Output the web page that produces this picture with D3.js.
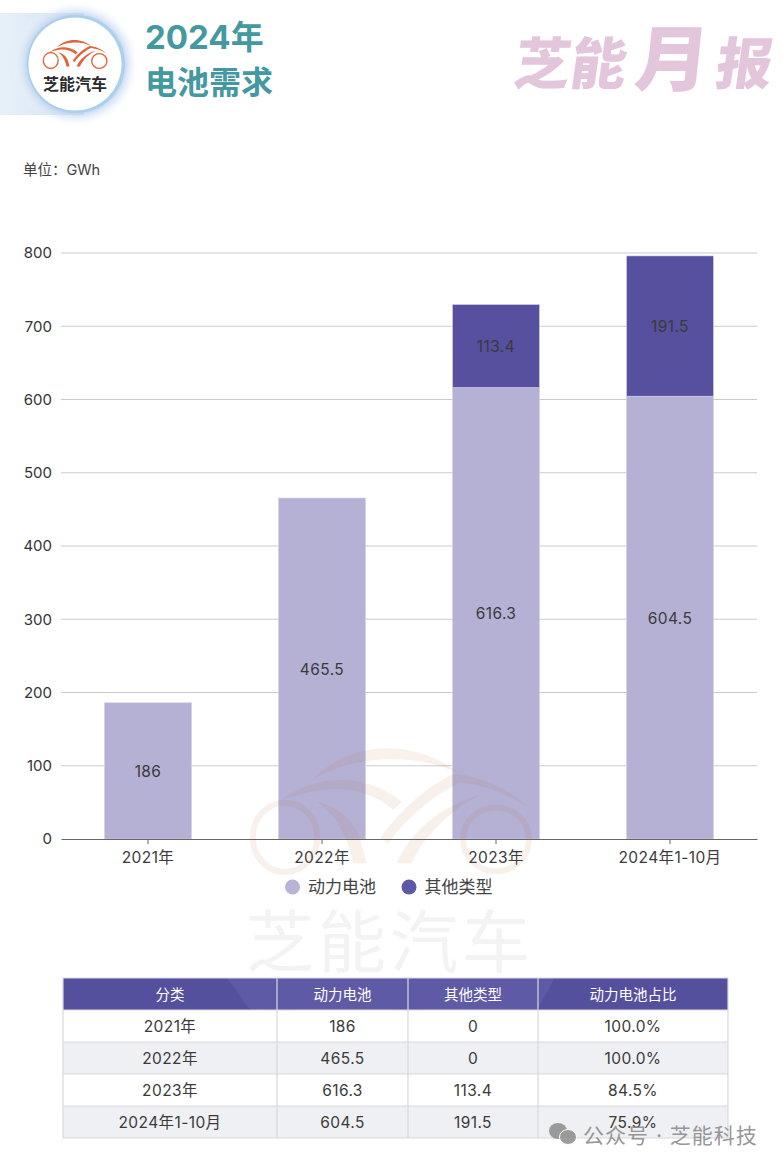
<!DOCTYPE html>
<html>
<head>
<meta charset="utf-8">
<script src="https://cdnjs.cloudflare.com/ajax/libs/d3/7.8.5/d3.min.js"></script>
<style>
html, body { margin: 0; padding: 0; background: #fff; }
svg { display: block; }
text { font-family: Inter, "Noto Sans CJK SC", sans-serif; }
</style>
</head>
<body>
<div id="chart"></div>
<script>
// data
const categories = ['2021年', '2022年', '2023年', '2024年1-10月'];
const powerBattery = [186, 465.5, 616.3, 604.5];
const otherTypes = [0, 0, 113.4, 191.5];
const powerShare = ['100.0%', '100.0%', '84.5%', '75.9%'];
const seriesNames = ['动力电池', '其他类型'];
const yTicks = [0, 100, 200, 300, 400, 500, 600, 700, 800];
const tableHeader = ['分类', '动力电池', '其他类型', '动力电池占比'];

const width = 782;
const height = 1166;
const fontStack = 'Inter, "Noto Sans CJK SC", sans-serif';
const barColors = ['#b5b1d5', '#56509e'];
const legendColors = ['#b9b4d6', '#5e59a6'];

const svg = d3.select('#chart').append('svg')
	.attr('width', width)
	.attr('height', height);

const defs = svg.append('defs');
const band = defs.append('linearGradient').attr('id', 'bandFill');
band.append('stop').attr('offset', '0%').attr('stop-color', '#e8f1f9');
band.append('stop').attr('offset', '100%').attr('stop-color', '#cfe0f3');
const glow = defs.append('radialGradient').attr('id', 'glowFill');
glow.append('stop').attr('offset', '70%').attr('stop-color', '#a9c3ec');
glow.append('stop').attr('offset', '100%').attr('stop-color', '#ffffff').attr('stop-opacity', 0);

// car logo, shared by the badge and the big watermark
const drawCar = (g, color) => {
	g.append('ellipse').attr('cx', 195).attr('cy', 322).attr('rx', 97).attr('ry', 104)
		.attr('fill', 'none').attr('stroke', color).attr('stroke-width', 18);
	g.append('ellipse').attr('cx', 828).attr('cy', 328).attr('rx', 99).attr('ry', 96)
		.attr('fill', 'none').attr('stroke', color).attr('stroke-width', 18);
	const shapes = [
		'M275,150 C340,85 420,55 500,55 C590,55 660,85 720,132 C650,100 580,85 500,88 C420,90 340,112 275,150 Z',
		'M175,215 C240,165 310,148 370,150 C440,152 500,178 545,215 L520,240 C470,195 400,175 340,178 C280,180 225,195 175,215 Z',
		'M290,215 C350,225 400,270 420,325 L440,400 L400,400 C385,320 345,250 290,215 Z',
		'M480,325 C540,240 620,170 700,132 C770,135 860,170 930,235 C860,190 790,165 720,158 C650,190 560,260 505,340 Z',
		'M530,400 C570,310 660,225 780,195 C690,240 610,320 575,400 Z'
	];
	g.selectAll('path').data(shapes).join('path')
		.attr('d', d => d)
		.attr('fill', color);
};

// header badge
svg.append('rect').attr('x', 0).attr('y', 13).attr('width', 84).attr('height', 102)
	.attr('fill', 'url(#bandFill)');
svg.append('circle').attr('cx', 76).attr('cy', 64).attr('r', 64).attr('fill', 'url(#glowFill)');
svg.append('circle').attr('cx', 76).attr('cy', 64).attr('r', 49).attr('fill', '#a9d0ec');
svg.append('circle').attr('cx', 75).attr('cy', 64).attr('r', 46.5).attr('fill', '#fff');
drawCar(svg.append('g').attr('transform', 'translate(35.8,35.8) scale(0.0767)'), '#e0653a');
svg.append('text').attr('x', 75).attr('y', 90).attr('text-anchor', 'middle')
	.attr('font-size', 16).attr('font-weight', 700).attr('fill', '#2b2b2b').text('芝能汽车');

svg.append('text').attr('x', 145).attr('y', 49).attr('font-size', 33).attr('font-weight', 700)
	.attr('fill', '#43999f').text('2024年');
svg.append('text').attr('x', 145).attr('y', 94).attr('font-size', 32).attr('font-weight', 700)
	.attr('fill', '#43999f').text('电池需求');

// top right brand mark
const brandFill = '#e3c6dc';
svg.append('text').attr('transform', 'translate(512,84) skewX(-8)')
	.attr('font-size', 56).attr('font-weight', 900).attr('fill', brandFill).text('芝能');
svg.append('text').attr('transform', 'translate(633,85) skewX(-6) scale(1.05,1.02)')
	.attr('font-size', 70).attr('font-weight', 900).attr('fill', brandFill).text('月');
svg.append('text').attr('transform', 'translate(714,84) skewX(-8)')
	.attr('font-size', 56).attr('font-weight', 900).attr('fill', brandFill).text('报');

svg.append('text').attr('x', 23).attr('y', 175).attr('font-size', 14.5).attr('fill', '#444')
	.text('单位：GWh');

// scales
const x = d3.scaleBand().domain(categories).range([61, 757]).padding(0.5).paddingOuter(0.25);
const y = d3.scaleLinear().domain([0, 800]).range([839, 253]);

// y axis + gridlines
const yAxis = svg.append('g')
	.attr('transform', 'translate(61,0)')
	.call(d3.axisLeft(y).tickValues(yTicks).tickSize(0).tickPadding(9));
yAxis.select('.domain').remove();
yAxis.selectAll('text').attr('font-size', 15).attr('fill', '#333').style('font-family', fontStack);
svg.append('g').selectAll('line').data(yTicks.slice(1)).join('line')
	.attr('x1', 61).attr('x2', 757)
	.attr('y1', d => y(d)).attr('y2', d => y(d))
	.attr('stroke', '#cbcbcb');

// stacked bars
const rows = categories.map((c, i) => ({ cat: c, power: powerBattery[i], other: otherTypes[i] }));
const stacked = d3.stack().keys(['power', 'other'])(rows);
svg.append('g').selectAll('g').data(stacked).join('g')
	.attr('fill', (d, i) => barColors[i])
	.selectAll('rect').data(d => d.filter(s => s[1] > s[0])).join('rect')
	.attr('x', d => x(d.data.cat))
	.attr('width', x.bandwidth())
	.attr('y', d => y(d[1]))
	.attr('height', d => y(d[0]) - y(d[1]))
	.attr('stroke', '#d5d2e8')
	.attr('stroke-width', 0.6);

// value labels in the bars
svg.append('g').selectAll('g').data(stacked).join('g')
	.selectAll('text').data(d => d.filter(s => s[1] > s[0])).join('text')
	.attr('x', d => x(d.data.cat) + x.bandwidth() / 2)
	.attr('y', d => (y(d[0]) + y(d[1])) / 2 + 6)
	.attr('text-anchor', 'middle')
	.attr('font-size', 15.5)
	.attr('letter-spacing', 0.4)
	.attr('fill', '#3a3a3a')
	.text(d => +(d[1] - d[0]).toFixed(1));

// x axis
const xAxis = svg.append('g')
	.attr('transform', 'translate(0,839)')
	.call(d3.axisBottom(x).tickSize(5).tickPadding(8).tickSizeOuter(0));
xAxis.select('.domain').attr('stroke', '#666').attr('stroke-width', 1.2);
xAxis.selectAll('line').attr('stroke', '#666');
xAxis.selectAll('text').attr('font-size', 15.5).attr('letter-spacing', 0.4).attr('fill', '#3a3a3a')
	.style('font-family', fontStack);

// legend
const legendX = [292.5, 409];
const legend = svg.append('g').selectAll('g').data(seriesNames).join('g')
	.attr('transform', (d, i) => `translate(${legendX[i]},887)`);
legend.append('circle').attr('r', 7.5).attr('fill', (d, i) => legendColors[i]);
legend.append('text').attr('x', 15.5).attr('y', 6).attr('font-size', 17).attr('fill', '#444').text(d => d);

// watermarks sit over the bars
drawCar(svg.append('g').attr('transform', 'translate(220,730) scale(0.3333)').attr('opacity', 0.09), '#b8672f');
svg.append('text').attr('x', 390).attr('y', 967).attr('text-anchor', 'middle')
	.attr('font-size', 68).attr('letter-spacing', 4).attr('fill', '#f3f3f3').text('芝能汽车');

// table
const colEdges = [63, 277, 408, 538, 728];
const rowY = d3.scaleBand().domain(d3.range(5)).range([978, 1138]);
const table = svg.append('g');
table.append('rect').attr('x', colEdges[0]).attr('y', rowY(0))
	.attr('width', colEdges[4] - colEdges[0]).attr('height', rowY.bandwidth())
	.attr('fill', '#55509d');
table.append('path').attr('d', 'M227,978 L250,1010 L537,1010 L555,978 Z').attr('fill', '#5f5aa5');
table.selectAll('rect.stripe').data(d3.range(1, 5)).join('rect')
	.attr('class', 'stripe')
	.attr('x', colEdges[0]).attr('y', d => rowY(d))
	.attr('width', colEdges[4] - colEdges[0]).attr('height', rowY.bandwidth())
	.attr('fill', d => d % 2 ? '#fff' : '#eff0f4');
table.selectAll('line.h').data(d3.range(6)).join('line')
	.attr('class', 'h')
	.attr('x1', colEdges[0]).attr('x2', colEdges[4])
	.attr('y1', d => 978 + d * rowY.bandwidth()).attr('y2', d => 978 + d * rowY.bandwidth())
	.attr('stroke', '#d8d8dc').attr('stroke-width', 1.2);
table.selectAll('line.v').data(colEdges).join('line')
	.attr('class', 'v')
	.attr('x1', d => d).attr('x2', d => d)
	.attr('y1', 978).attr('y2', 1138)
	.attr('stroke', '#d8d8dc').attr('stroke-width', 1.2);

const tableRows = [tableHeader].concat(categories.map((c, i) => [c, powerBattery[i], otherTypes[i], powerShare[i]]));
tableRows.forEach((row, r) => {
	table.append('g').selectAll('text').data(row).join('text')
		.attr('x', (d, c) => (colEdges[c] + colEdges[c + 1]) / 2)
		.attr('y', rowY(r) + rowY.bandwidth() / 2 + 5.5)
		.attr('text-anchor', 'middle')
		.attr('font-size', r === 0 ? 14.5 : 15.5)
		.attr('letter-spacing', r === 0 ? 0 : 0.4)
		.attr('fill', r === 0 ? '#fff' : '#3a3a3a')
		.text(d => d);
});

// wechat footer
const mark = svg.append('g').attr('fill', '#8c8c8c').attr('opacity', 0.85);
mark.append('ellipse').attr('cx', 558).attr('cy', 1131).attr('rx', 9).attr('ry', 8);
mark.append('ellipse').attr('cx', 568).attr('cy', 1137).attr('rx', 8.5).attr('ry', 7.5).attr('stroke', '#fff');
svg.append('text').attr('x', 583).attr('y', 1143).attr('font-size', 21).attr('letter-spacing', 1)
	.attr('fill', '#8a8a8a').attr('fill-opacity', 0.9).text('公众号 · 芝能科技');
</script>
</body>
</html>
